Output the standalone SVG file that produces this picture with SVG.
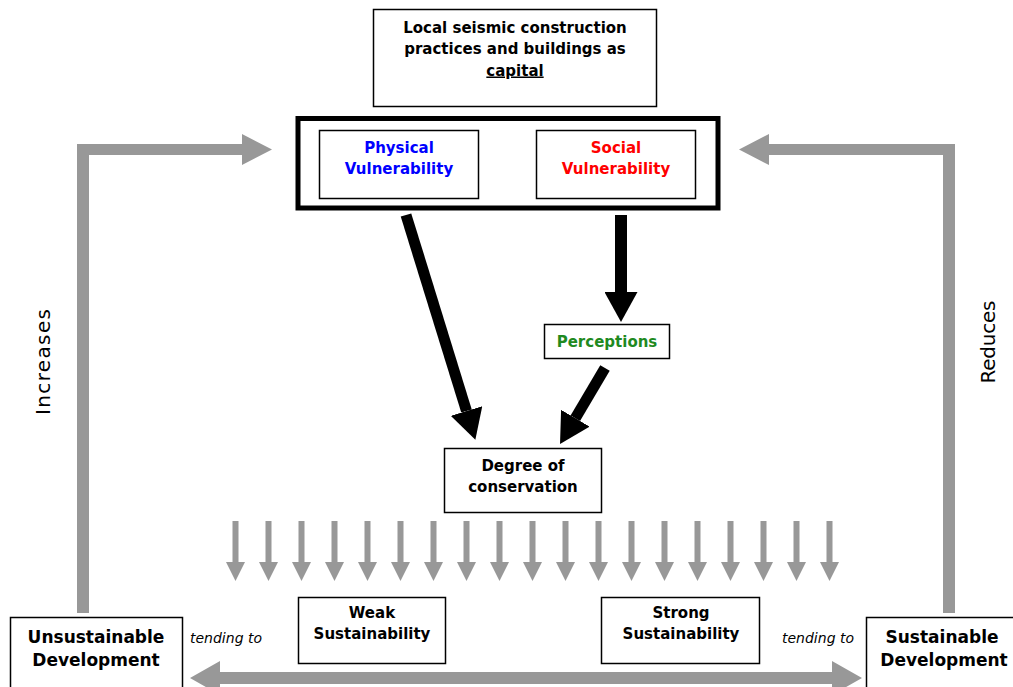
<svg xmlns="http://www.w3.org/2000/svg" xmlns:xlink="http://www.w3.org/1999/xlink" width="1013" height="687" viewBox="0 0 1013 687">
<style>
.box{fill:#fff;stroke:#000;stroke-width:1.5}
.t{font-family:"DejaVu Sans","Liberation Sans",sans-serif;font-weight:bold;font-size:15px;text-anchor:middle;fill:#000}
.big{font-size:17px}
.it{font-family:"DejaVu Sans","Liberation Sans",sans-serif;font-style:italic;font-size:14px;fill:#000}
.side{font-family:"DejaVu Sans","Liberation Sans",sans-serif;font-size:20px;text-anchor:middle;fill:#000}
.gray{fill:#989898}
.blk{stroke:#000;fill:none}
</style>
<defs>
<marker id="bh" markerUnits="userSpaceOnUse" markerWidth="30" markerHeight="33" refX="0" refY="16.5" orient="auto" viewBox="0 0 30 33">
<path d="M0,0 L30,16.5 L0,33 Z" fill="#000"/>
</marker>
<marker id="sh" markerUnits="userSpaceOnUse" markerWidth="9" markerHeight="7" refX="9" refY="3.5" orient="auto" viewBox="0 0 9 7">
<path d="M0,0 L9,3.5 L0,7 Z" fill="#000"/>
</marker>
<path id="ga" d="M-3,0 L3,0 L3,41 L9.5,41 L0,60 L-9.5,41 L-3,41 Z"/>
</defs>
<rect width="1013" height="687" fill="#fff"/>

<g id="connectors">
<path class="gray" d="M77,613 L77,144 L242,144 L242,134 L272,149.5 L242,165 L242,155 L89,155 L89,613 Z"/>
<path class="gray" d="M955,613 L955,144 L769,144 L769,134 L739,149.5 L769,165 L769,155 L943,155 L943,613 Z"/>
<path class="gray" d="M190,678 L220,661 L220,672 L832,672 L832,661 L862,678 L832,695 L832,684 L220,684 L220,695 Z"/>
<g class="gray">
<use xlink:href="#ga" transform="translate(235.5,521)"/>
<use xlink:href="#ga" transform="translate(268.5,521)"/>
<use xlink:href="#ga" transform="translate(301.5,521)"/>
<use xlink:href="#ga" transform="translate(334.5,521)"/>
<use xlink:href="#ga" transform="translate(367.5,521)"/>
<use xlink:href="#ga" transform="translate(400.5,521)"/>
<use xlink:href="#ga" transform="translate(433.5,521)"/>
<use xlink:href="#ga" transform="translate(466.5,521)"/>
<use xlink:href="#ga" transform="translate(499.5,521)"/>
<use xlink:href="#ga" transform="translate(532.5,521)"/>
<use xlink:href="#ga" transform="translate(565.5,521)"/>
<use xlink:href="#ga" transform="translate(598.5,521)"/>
<use xlink:href="#ga" transform="translate(631.5,521)"/>
<use xlink:href="#ga" transform="translate(664.5,521)"/>
<use xlink:href="#ga" transform="translate(697.5,521)"/>
<use xlink:href="#ga" transform="translate(730.5,521)"/>
<use xlink:href="#ga" transform="translate(763.5,521)"/>
<use xlink:href="#ga" transform="translate(796.5,521)"/>
<use xlink:href="#ga" transform="translate(829.5,521)"/>
</g>
<line class="blk" x1="406" y1="215" x2="466.5" y2="411" stroke-width="11" marker-end="url(#bh)"/>
<line class="blk" x1="621" y1="215" x2="621" y2="292" stroke-width="12" marker-end="url(#bh)"/>
<line class="blk" x1="605" y1="368" x2="575.3" y2="418.2" stroke-width="11" marker-end="url(#bh)"/>
<line class="blk" x1="484" y1="157" x2="529" y2="157" stroke-width="1" marker-end="url(#sh)"/>
<line class="blk" x1="529" y1="171" x2="484" y2="171" stroke-width="1" marker-end="url(#sh)"/>
</g>

<g id="node-capital">
<rect class="box" x="373.5" y="9.5" width="283" height="97"/>
<text class="t" x="515" y="32.5">Local seismic construction</text>
<text class="t" x="515" y="54">practices and buildings as</text>
<text class="t" x="515" y="75.5" text-decoration="underline">capital</text>
</g>

<g id="node-vulnerability">
<rect x="298" y="118.5" width="420" height="89.5" fill="#fff" stroke="#000" stroke-width="5"/>
</g>

<g id="node-physical">
<rect class="box" x="319.5" y="130.5" width="159" height="68"/>
<text class="t" x="399" y="153" style="fill:#0000ff">Physical</text>
<text class="t" x="399" y="174" style="fill:#0000ff">Vulnerability</text>
</g>

<g id="node-social">
<rect class="box" x="536.5" y="130.5" width="159" height="68"/>
<text class="t" x="616" y="153" style="fill:#ff0000">Social</text>
<text class="t" x="616" y="174" style="fill:#ff0000">Vulnerability</text>
</g>

<g id="node-perceptions">
<rect class="box" x="544.5" y="324.5" width="125" height="34"/>
<text class="t" x="607" y="347" style="fill:#1f8a1f">Perceptions</text>
</g>

<g id="node-degree">
<rect class="box" x="444.5" y="448.5" width="157" height="64"/>
<text class="t" x="523" y="471">Degree of</text>
<text class="t" x="523" y="492">conservation</text>
</g>

<g id="node-weak">
<rect class="box" x="298.5" y="597.5" width="147" height="66"/>
<text class="t" x="372" y="618">Weak</text>
<text class="t" x="372" y="639">Sustainability</text>
</g>

<g id="node-strong">
<rect class="box" x="601.5" y="597.5" width="158" height="66"/>
<text class="t" x="681" y="618">Strong</text>
<text class="t" x="681" y="639">Sustainability</text>
</g>

<g id="node-unsustainable">
<rect class="box" x="10.5" y="617.5" width="172" height="80"/>
<text class="t big" x="96" y="643">Unsustainable</text>
<text class="t big" x="96" y="666">Development</text>
</g>

<g id="node-sustainable">
<rect class="box" x="866.5" y="617.5" width="160" height="80"/>
<text class="t big" x="942" y="643">Sustainable</text>
<text class="t big" x="944" y="666">Development</text>
</g>

<g id="labels">
<text class="it" x="190" y="643">tending to</text>
<text class="it" x="782" y="643">tending to</text>
<text class="side" transform="translate(50,362) rotate(-90)" textLength="106" lengthAdjust="spacing">Increases</text>
<text class="side" transform="translate(995,342) rotate(-90)" textLength="83" lengthAdjust="spacing">Reduces</text>
</g>
</svg>
